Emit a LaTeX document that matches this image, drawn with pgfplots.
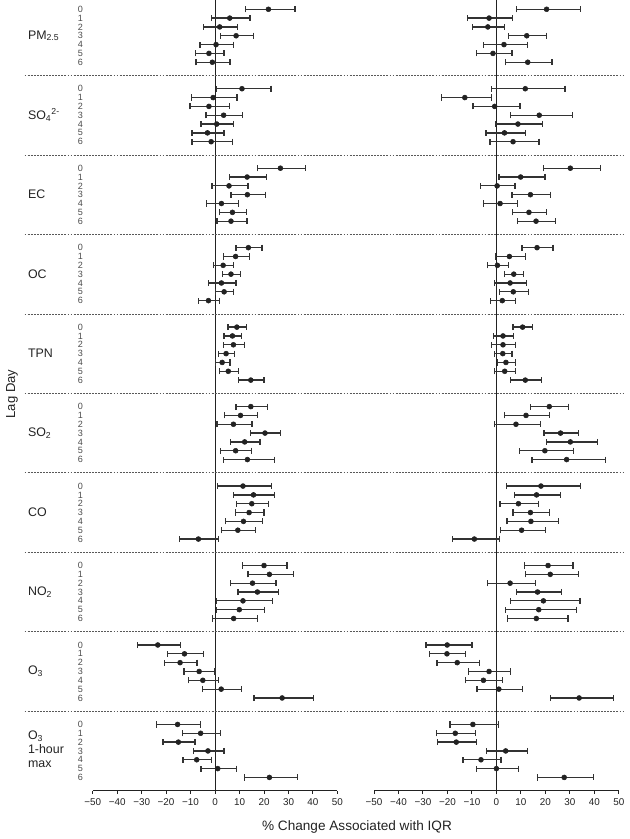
\documentclass[border=0pt]{standalone}
\usepackage{pgfplots}
\pgfplotsset{compat=1.18}
\usepackage{pgfplotstable}
\usepackage{fontspec}
\setmainfont{Liberation Sans}

% single-pollutant models (left) and multipollutant-adjusted (right)
% columns: y position, lower CI, estimate, upper CI
\pgfplotstableread{
y lo pt hi
-1.5 12.3 21.8 32.7
-2.5 -1.4 6.0 14.3
-3.5 -4.6 1.9 9.3
-4.5 2.3 8.6 15.7
-5.5 -6.1 0.4 7.5
-6.5 -8.0 -2.5 3.7
-7.5 -7.8 -1.1 6.1
-10.5 0.7 11.0 22.9
-11.5 -9.7 -0.8 9.0
-12.5 -10.2 -2.5 6.0
-13.5 -3.7 3.5 11.3
-14.5 -5.7 0.7 7.5
-15.5 -9.4 -3.1 3.7
-16.5 -9.4 -1.6 7.2
-19.5 17.3 26.7 36.9
-20.5 5.9 13.1 21.1
-21.5 -1.2 5.7 13.5
-22.5 6.5 13.2 20.7
-23.5 -3.4 2.6 9.7
-24.5 1.8 7.1 12.9
-25.5 0.8 6.5 13.1
-28.5 8.6 13.6 19.2
-29.5 3.4 8.4 14.0
-30.5 -0.5 3.3 7.5
-31.5 3.1 6.5 10.4
-32.5 -2.7 2.6 8.6
-33.5 0.1 3.7 7.5
-34.5 -6.7 -2.7 1.8
-37.5 5.3 8.9 12.8
-38.5 3.7 7.1 10.9
-39.5 3.4 7.5 12.0
-40.5 1.4 4.5 8.0
-41.5 0.3 2.9 6.1
-42.5 1.8 5.4 9.7
-43.5 9.5 14.6 20.0
-46.5 8.6 14.6 21.3
-47.5 4.0 10.4 17.3
-48.5 0.8 7.5 15.1
-49.5 14.6 20.4 26.8
-50.5 6.3 12.1 18.4
-51.5 2.3 8.4 14.9
-52.5 3.5 13.2 24.3
-55.5 1.0 11.4 23.0
-56.5 7.6 15.7 24.4
-57.5 8.7 15.0 21.8
-58.5 8.3 13.9 20.0
-59.5 4.4 11.6 19.5
-60.5 2.6 9.3 16.6
-61.5 -14.4 -6.8 1.4
-64.5 11.3 20.0 29.4
-65.5 13.4 22.2 31.9
-66.5 6.3 15.3 24.9
-67.5 9.4 17.3 26.0
-68.5 0.5 11.4 23.6
-69.5 0.7 9.9 20.3
-70.5 -1.0 7.6 17.2
-73.5 -31.6 -23.4 -14.2
-74.5 -19.5 -12.5 -4.6
-75.5 -20.7 -14.3 -7.4
-76.5 -12.7 -6.5 0.0
-77.5 -10.9 -5.0 1.5
-78.5 -5.0 2.5 10.8
-79.5 15.9 27.4 40.1
-82.5 -23.8 -15.3 -5.9
-83.5 -13.2 -5.9 2.3
-84.5 -21.3 -15.0 -8.2
-85.5 -8.9 -2.9 3.7
-86.5 -13.1 -7.5 -1.4
-87.5 -5.7 1.1 8.7
-88.5 11.9 22.2 33.8
}\lefttab

\pgfplotstableread{
y lo pt hi
-1.5 8.2 20.5 34.4
-2.5 -11.7 -3.0 6.7
-3.5 -9.9 -3.5 3.4
-4.5 4.9 12.4 20.5
-5.5 -5.3 3.1 12.6
-6.5 -8.2 -1.4 6.4
-7.5 3.8 12.8 22.7
-10.5 -1.9 11.8 28.0
-11.5 -22.4 -12.9 -1.9
-12.5 -9.6 -0.7 9.6
-13.5 5.8 17.5 31.0
-14.5 -0.3 8.8 18.9
-15.5 -4.3 3.3 11.8
-16.5 -2.6 6.8 17.4
-19.5 19.2 30.2 42.4
-20.5 1.1 9.9 19.8
-21.5 -6.5 0.3 7.6
-22.5 6.4 13.9 22.1
-23.5 -5.2 1.5 8.7
-24.5 6.7 13.3 20.4
-25.5 8.7 16.2 24.2
-28.5 10.5 16.6 23.1
-29.5 -0.5 5.3 11.8
-30.5 -3.5 0.4 4.8
-31.5 3.3 7.1 11.0
-32.5 -0.7 5.6 12.4
-33.5 1.4 6.9 13.0
-34.5 -2.4 2.4 7.9
-37.5 6.8 10.7 14.8
-38.5 -1.1 2.7 6.9
-39.5 -1.9 2.7 7.9
-40.5 -0.7 2.6 6.4
-41.5 0.4 3.9 7.7
-42.5 -0.8 3.4 7.9
-43.5 5.8 11.8 18.5
-46.5 14.0 21.6 29.6
-47.5 3.4 12.1 21.7
-48.5 -0.8 8.0 17.9
-49.5 19.4 26.2 33.6
-50.5 20.4 30.2 41.3
-51.5 9.5 19.8 31.4
-52.5 14.5 28.7 44.7
-55.5 4.2 18.2 34.4
-56.5 7.3 16.4 26.2
-57.5 1.5 9.0 17.3
-58.5 6.8 13.9 21.6
-59.5 4.3 14.1 25.3
-60.5 1.8 10.3 20.2
-61.5 -17.8 -9.0 1.4
-64.5 11.5 21.1 31.3
-65.5 11.8 22.0 33.6
-66.5 -3.5 5.6 15.9
-67.5 8.2 16.8 26.6
-68.5 5.8 19.2 34.2
-69.5 3.8 17.3 32.6
-70.5 4.6 16.3 29.2
-73.5 -28.8 -20.1 -10.0
-74.5 -27.2 -20.2 -12.5
-75.5 -24.3 -16.0 -6.9
-76.5 -11.3 -3.0 5.8
-77.5 -12.6 -5.3 2.6
-78.5 -7.9 1.0 10.7
-79.5 22.0 33.8 47.7
-82.5 -19.0 -9.6 1.0
-83.5 -24.5 -16.8 -8.6
-84.5 -24.2 -16.4 -8.0
-85.5 -4.1 3.8 12.6
-86.5 -13.6 -6.3 1.9
-87.5 -8.2 0.0 9.0
-88.5 16.8 27.7 39.8
}\righttab

\definecolor{ink}{HTML}{222222}
\definecolor{bar}{HTML}{333333}

\tikzset{
  zero/.style={line width=0.8pt, ink},
  sep/.style={line width=0.55pt, black!65, dash pattern=on 1.4pt off 0.9pt},
}
\pgfplotsset{
  panel/.style={
    scale only axis, width=183.6pt, height=593pt, anchor=south west,
    xmin=-50, xmax=50, ymin=-90, ymax=-0.45,
    axis x line*=bottom, axis y line*=left,
    y axis line style={draw=none}, ytick style={draw=none},
    x axis line style={line width=0.75pt, ink},
    xtick={-50,-40,...,50},
    xticklabels={−50,−40,−30,−20,−10,0,10,20,30,40,50},
    tick align=outside, major tick length=2.6pt,
    xtick style={line width=0.75pt, ink},
    xticklabel style={font=\fontsize{7.4}{8}\selectfont, text=ink},
    clip=false,
  },
  ci/.style={
    only marks, mark=*, mark size=1.85pt, ink,
    error bars/.cd, x dir=both, x explicit, error mark=|,
    error bar style={line width=0.95pt, bar},
    error mark options={mark size=2.3pt, line width=0.95pt, bar},
  },
}
\newcommand{\grp}{\fontsize{9.3}{10.2}\selectfont}

\begin{document}
\begin{tikzpicture}
\path[use as bounding box] (0pt,0pt) rectangle (471.75pt,-629.25pt);

\begin{axis}[panel, at={(69.5pt,-593pt)},
  ytick={-1.5,-2.5,-3.5,-4.5,-5.5,-6.5,-7.5,
         -10.5,-11.5,-12.5,-13.5,-14.5,-15.5,-16.5,
         -19.5,-20.5,-21.5,-22.5,-23.5,-24.5,-25.5,
         -28.5,-29.5,-30.5,-31.5,-32.5,-33.5,-34.5,
         -37.5,-38.5,-39.5,-40.5,-41.5,-42.5,-43.5,
         -46.5,-47.5,-48.5,-49.5,-50.5,-51.5,-52.5,
         -55.5,-56.5,-57.5,-58.5,-59.5,-60.5,-61.5,
         -64.5,-65.5,-66.5,-67.5,-68.5,-69.5,-70.5,
         -73.5,-74.5,-75.5,-76.5,-77.5,-78.5,-79.5,
         -82.5,-83.5,-84.5,-85.5,-86.5,-87.5,-88.5},
  yticklabels={0,1,2,3,4,5,6,0,1,2,3,4,5,6,0,1,2,3,4,5,6,0,1,2,3,4,5,6,
               0,1,2,3,4,5,6,0,1,2,3,4,5,6,0,1,2,3,4,5,6,0,1,2,3,4,5,6,
               0,1,2,3,4,5,6,0,1,2,3,4,5,6},
  yticklabel style={font=\fontsize{6.8}{6.8}\selectfont, text=black!70, inner sep=0pt, xshift=-4.6pt},
]
\draw[zero] (axis cs:0,-90) -- (axis cs:0,-0.45);
\pgfplotsinvokeforeach{-9,-18,-27,-36,-45,-54,-63,-72,-81}{
  \draw[sep] (axis cs:-77.8,#1) -- (axis cs:167.4,#1);
}
\addplot[ci] table[x=pt, y=y,
  x error plus expr=\thisrow{hi}-\thisrow{pt},
  x error minus expr=\thisrow{pt}-\thisrow{lo}] {\lefttab};
\begin{scope}[every node/.style={anchor=west, inner sep=0pt, font=\grp, text=ink}]
\node at (axis cs:-76.5,-4.5) {PM\textsubscript{2.5}};
\node at (axis cs:-76.5,-13.5) {SO\textsubscript{4}\textsuperscript{2-}};
\node at (axis cs:-76.5,-22.5) {EC};
\node at (axis cs:-76.5,-31.5) {OC};
\node at (axis cs:-76.5,-40.5) {TPN};
\node at (axis cs:-76.5,-49.5) {SO\textsubscript{2}};
\node at (axis cs:-76.5,-58.5) {CO};
\node at (axis cs:-76.5,-67.5) {NO\textsubscript{2}};
\node at (axis cs:-76.5,-76.5) {O\textsubscript{3}};
\node[align=left] at (axis cs:-76.5,-85.3) {O\textsubscript{3}\\1-hour\\max};
\end{scope}
\end{axis}

\begin{axis}[panel, at={(280.5pt,-593pt)}, ytick=\empty]
\draw[zero] (axis cs:0,-90) -- (axis cs:0,-0.45);
\addplot[ci] table[x=pt, y=y,
  x error plus expr=\thisrow{hi}-\thisrow{pt},
  x error minus expr=\thisrow{pt}-\thisrow{lo}] {\righttab};
\end{axis}

\node[font=\fontsize{10.2}{12}\selectfont, text=ink] at (267.75pt,-620pt) {\% Change Associated with IQR};
\node[font=\fontsize{9.8}{12}\selectfont, text=ink, rotate=90] at (9pt,-295.5pt) {Lag Day};
\end{tikzpicture}
\end{document}
